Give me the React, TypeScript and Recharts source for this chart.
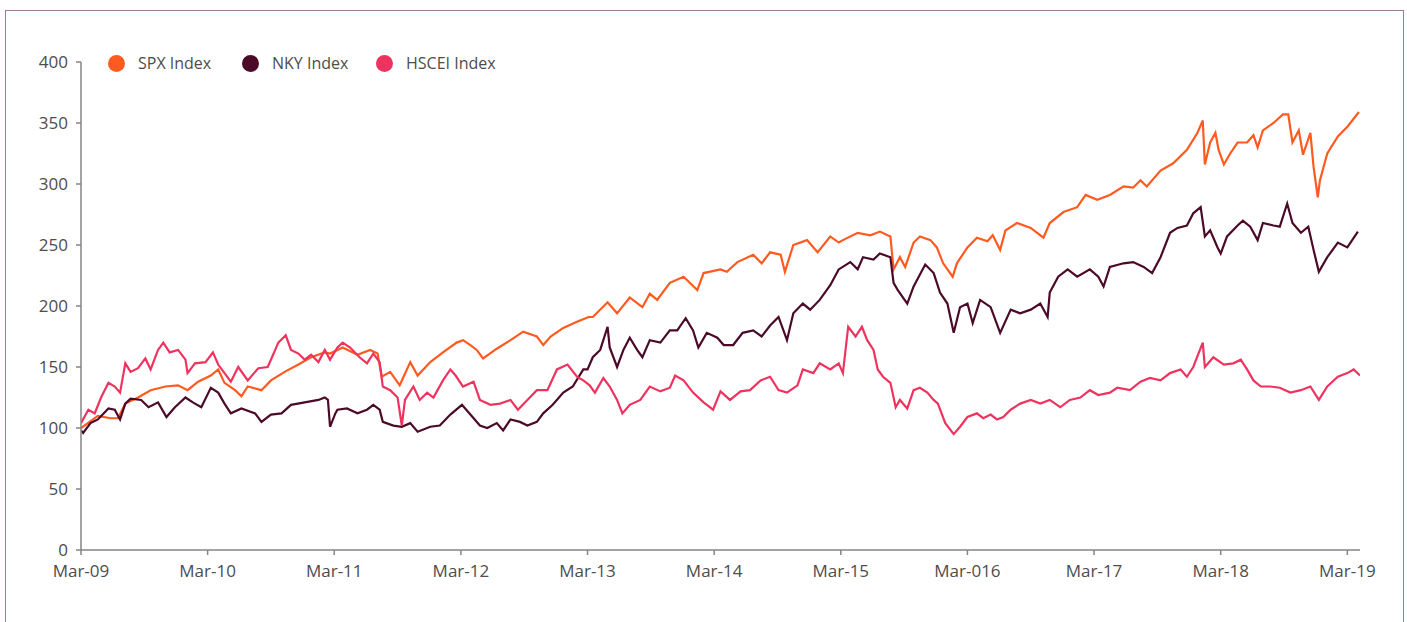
import { LineChart, Line, XAxis, YAxis, Legend } from "recharts";

// x = months since Mar 2009, y = index level rebased to 100
const SPX = [
  [0, 100], [1.6, 110], [2.8, 108], [3.5, 108], [4.2, 120], [5.4, 125], [6.6, 131], [8.0, 134],
  [9.2, 135], [10.1, 131], [11.1, 138], [12.3, 143], [13.0, 148], [13.6, 137], [14.6, 131], [15.2, 126],
  [15.8, 134], [17.1, 131], [18.0, 139], [19.3, 146], [20.6, 152], [21.8, 158], [23.1, 162], [23.6, 161],
  [24.8, 166], [26.2, 160], [27.4, 164], [28.1, 161], [28.5, 142], [29.3, 146], [30.2, 135], [31.2, 154],
  [31.9, 143], [33.1, 154], [34.3, 162], [35.6, 170], [36.2, 172], [36.9, 168], [37.5, 164], [38.1, 157],
  [39.4, 165], [40.7, 172], [41.9, 179], [43.2, 175], [43.8, 168], [44.5, 175], [45.7, 182], [47.0, 187],
  [48.1, 191], [48.5, 191], [49.9, 203], [50.8, 194], [52.0, 207], [53.2, 199], [53.9, 210], [54.6, 205],
  [55.8, 219], [57.1, 224], [58.4, 213], [59.0, 227], [60.6, 230], [61.2, 228], [62.2, 236], [63.7, 242],
  [64.5, 235], [65.3, 244], [66.3, 242], [66.7, 228], [67.5, 250], [68.8, 254], [69.8, 244], [71.0, 257],
  [71.8, 252], [72.2, 254], [73.6, 260], [74.8, 258], [75.7, 261], [76.7, 257], [77.0, 230], [77.6, 240],
  [78.1, 232], [78.9, 252], [79.5, 257], [80.5, 254], [81.1, 248], [81.7, 235], [82.6, 224], [83.0, 235],
  [84.0, 248], [84.9, 256], [85.9, 253], [86.4, 258], [87.1, 246], [87.6, 262], [88.7, 268], [90.0, 264],
  [91.2, 256], [91.8, 268], [93.1, 277], [94.4, 281], [95.2, 291], [96.3, 287], [97.5, 291], [98.8, 298],
  [99.7, 297], [100.4, 303], [101.0, 298], [102.3, 311], [103.5, 317], [104.8, 328], [105.8, 342], [106.3, 352],
  [106.5, 316], [107.0, 334], [107.5, 342], [107.8, 328], [108.3, 316], [108.9, 325], [109.6, 334], [110.5, 334],
  [111.1, 340], [111.5, 330], [112.0, 344], [113.0, 350], [113.9, 357], [114.4, 357], [114.8, 334], [115.4, 344],
  [115.8, 324], [116.5, 342], [116.8, 314], [117.2, 289], [117.4, 303], [118.1, 325], [119.1, 339], [120.0, 347],
  [121.1, 359],
];

const NKY = [
  [0, 98], [0.2, 96], [0.9, 104], [1.6, 107], [2.6, 116], [3.2, 115], [3.7, 107], [4.2, 120],
  [4.7, 124], [5.7, 123], [6.4, 117], [7.3, 121], [8.1, 109], [8.9, 117], [9.9, 125], [10.6, 121],
  [11.4, 117], [12.3, 133], [13.0, 129], [13.6, 120], [14.2, 112], [15.2, 116], [16.5, 112], [17.1, 105],
  [18.0, 111], [19.0, 112], [19.9, 119], [21.2, 121], [22.5, 123], [23.1, 125], [23.4, 123], [23.6, 101],
  [24.1, 112], [24.3, 115], [25.2, 116], [26.2, 112], [27.1, 115], [27.7, 119], [28.3, 115], [28.6, 105],
  [29.6, 102], [30.4, 101], [31.2, 104], [31.9, 97], [33.1, 101], [34.0, 102], [35.0, 111], [36.1, 119],
  [36.9, 111], [37.8, 102], [38.5, 100], [39.4, 104], [40.0, 98], [40.7, 107], [41.6, 105], [42.3, 102],
  [43.2, 105], [43.8, 112], [44.7, 119], [45.7, 129], [46.6, 134], [47.6, 148], [48.0, 148], [48.5, 158],
  [49.2, 164], [49.9, 183], [50.1, 166], [50.8, 150], [51.4, 164], [52.0, 174], [52.7, 164], [53.2, 158],
  [53.9, 172], [54.9, 170], [55.8, 180], [56.5, 180], [57.3, 190], [58.0, 180], [58.5, 166], [59.3, 178],
  [60.3, 174], [60.9, 168], [61.8, 168], [62.7, 178], [63.7, 180], [64.5, 175], [65.3, 184], [66.1, 191],
  [66.9, 172], [67.5, 194], [68.4, 202], [69.1, 197], [70.0, 205], [71.0, 217], [71.8, 230], [72.9, 236],
  [73.6, 230], [74.1, 240], [75.1, 238], [75.7, 243], [76.7, 240], [77.0, 219], [77.4, 213], [78.3, 202],
  [78.9, 216], [80.0, 234], [80.8, 227], [81.4, 211], [82.1, 202], [82.7, 178], [83.3, 199], [84.0, 202],
  [84.5, 186], [85.2, 205], [86.2, 199], [87.1, 178], [88.1, 197], [89.0, 194], [90.0, 197], [90.9, 202],
  [91.6, 191], [91.8, 211], [92.6, 224], [93.5, 230], [94.4, 224], [95.6, 230], [96.4, 224], [96.9, 216],
  [97.5, 232], [98.8, 235], [99.7, 236], [100.7, 232], [101.5, 227], [102.3, 240], [103.2, 260], [103.9, 264],
  [104.8, 266], [105.4, 276], [106.1, 281], [106.5, 257], [107.0, 262], [107.7, 248], [108.0, 243], [108.6, 257],
  [109.6, 266], [110.1, 270], [110.8, 265], [111.5, 254], [112.0, 268], [113.0, 266], [113.6, 265], [114.3, 284],
  [114.8, 268], [115.6, 260], [116.3, 265], [116.8, 246], [117.3, 228], [118.1, 240], [119.1, 252], [120.0, 248],
  [121.0, 261],
];

const HSCEI = [
  [0, 104], [0.7, 115], [1.3, 112], [1.9, 125], [2.6, 137], [3.2, 134], [3.7, 129], [4.2, 153],
  [4.7, 146], [5.4, 149], [6.1, 157], [6.6, 148], [7.3, 164], [7.8, 170], [8.4, 162], [9.2, 164],
  [9.9, 156], [10.1, 145], [10.8, 153], [11.8, 154], [12.5, 162], [13.0, 152], [13.6, 145], [14.2, 138],
  [14.9, 150], [15.8, 139], [16.8, 149], [17.7, 150], [18.7, 170], [19.4, 176], [19.9, 164], [20.6, 161],
  [21.2, 156], [21.8, 160], [22.5, 154], [23.1, 164], [23.6, 156], [24.3, 166], [24.8, 170], [25.5, 166],
  [26.4, 158], [27.1, 153], [27.7, 161], [28.3, 154], [28.6, 134], [29.3, 131], [30.0, 125], [30.4, 102],
  [30.7, 123], [31.5, 134], [32.1, 123], [32.8, 129], [33.4, 125], [34.3, 139], [35.0, 148], [35.5, 143],
  [36.2, 134], [37.2, 138], [37.8, 123], [38.8, 119], [39.7, 120], [40.7, 123], [41.4, 115], [42.3, 123],
  [43.2, 131], [44.2, 131], [45.1, 148], [46.1, 152], [47.0, 142], [47.6, 139], [48.2, 135], [48.7, 129],
  [49.5, 141], [50.1, 134], [50.8, 123], [51.3, 112], [52.0, 119], [53.0, 123], [53.9, 134], [54.9, 130],
  [55.8, 133], [56.3, 143], [57.1, 139], [58.0, 129], [59.0, 121], [59.9, 115], [60.6, 130], [61.5, 123],
  [62.5, 130], [63.4, 131], [64.4, 139], [65.3, 142], [66.1, 131], [66.9, 129], [67.9, 135], [68.4, 148],
  [69.4, 145], [70.0, 153], [71.0, 148], [71.8, 153], [72.2, 145], [72.7, 183], [73.4, 175], [74.0, 183],
  [74.5, 172], [75.1, 164], [75.5, 148], [76.0, 142], [76.7, 137], [77.2, 117], [77.6, 123], [78.3, 116],
  [78.9, 131], [79.5, 133], [80.2, 129], [80.8, 123], [81.2, 120], [81.9, 104], [82.7, 95], [83.3, 101],
  [84.0, 109], [84.9, 112], [85.5, 108], [86.2, 111], [86.8, 107], [87.4, 109], [88.1, 115], [89.0, 120],
  [90.0, 123], [90.9, 120], [91.8, 123], [92.8, 117], [93.7, 123], [94.7, 125], [95.6, 131], [96.4, 127],
  [97.5, 129], [98.2, 133], [99.4, 131], [100.4, 138], [101.3, 141], [102.3, 139], [103.2, 145], [104.2, 148],
  [104.8, 142], [105.4, 150], [106.3, 170], [106.5, 150], [107.3, 158], [108.3, 152], [109.2, 153], [109.9, 156],
  [110.5, 148], [111.1, 139], [111.8, 134], [112.7, 134], [113.6, 133], [114.6, 129], [115.6, 131], [116.5, 134],
  [117.3, 123], [118.1, 134], [119.1, 142], [120.0, 145], [120.6, 148], [121.2, 143],
];

const X_TICKS = [0, 12, 24, 36, 48, 60, 72, 84, 96, 108, 120];
const X_LABELS = ["Mar-09", "Mar-10", "Mar-11", "Mar-12", "Mar-13", "Mar-14", "Mar-15", "Mar-016", "Mar-17", "Mar-18", "Mar-19"];
const Y_TICKS = [0, 50, 100, 150, 200, 250, 300, 350, 400];

const SERIES = [
  { name: "SPX Index", color: "#ff5a1f", points: SPX },
  { name: "NKY Index", color: "#4a0a28", points: NKY },
  { name: "HSCEI Index", color: "#ef335f", points: HSCEI },
];

const FONT = "'Open Sans', 'Noto Sans', sans-serif";
const AXIS = "#858585";
const TEXT = "#4d4d4d";

function LegendRow() {
  return (
    <div style={{ display: "flex", alignItems: "center", fontFamily: FONT, fontSize: 16, color: TEXT }}>
      {SERIES.map((s) => (
        <div key={s.name} style={{ display: "flex", alignItems: "center", width: 134 }}>
          <span style={{ width: 17, height: 17, borderRadius: "50%", background: s.color, marginRight: 13 }} />
          <span style={{ whiteSpace: "nowrap" }}>{s.name}</span>
        </div>
      ))}
    </div>
  );
}

export default function App() {
  return (
    <div style={{ position: "fixed", left: 0, top: 0, width: 1407, height: 622, overflow: "hidden", background: "#fff" }}>
      <div
        style={{
          position: "absolute",
          left: 5,
          top: 10,
          width: 1397,
          height: 700,
          border: "1.5px solid #a07a8e",
        }}
      />
      <div style={{ position: "absolute", left: 0, top: 0 }}>
        <LineChart width={1407} height={622} margin={{ top: 62, right: 47, bottom: 42, left: 21 }}>
          <XAxis
            dataKey="m"
            type="number"
            domain={[0, 121.2]}
            ticks={X_TICKS}
            tickFormatter={(m: number) => X_LABELS[Math.round(m / 12)]}
            height={30}
            stroke={AXIS}
            strokeWidth={1.5}
            tickSize={5}
            tickMargin={10}
            tick={{ fill: TEXT, fontSize: 17, fontFamily: FONT }}
            allowDataOverflow
          />
          <YAxis
            type="number"
            domain={[0, 400]}
            ticks={Y_TICKS}
            width={60}
            stroke={AXIS}
            strokeWidth={1.5}
            tickSize={5}
            tickMargin={8}
            tick={{ fill: TEXT, fontSize: 17, fontFamily: FONT }}
            allowDataOverflow
          />
          <Legend
            layout="horizontal"
            verticalAlign="middle"
            align="center"
            content={() => <LegendRow />}
            wrapperStyle={{ top: 52, left: 108, width: 600 }}
          />
          {SERIES.map((s) => (
            <Line
              key={s.name}
              name={s.name}
              data={s.points.map(([m, v]) => ({ m, v }))}
              dataKey="v"
              type="linear"
              stroke={s.color}
              strokeWidth={2.2}
              dot={false}
              activeDot={false}
              isAnimationActive={false}
            />
          ))}
        </LineChart>
      </div>
    </div>
  );
}
